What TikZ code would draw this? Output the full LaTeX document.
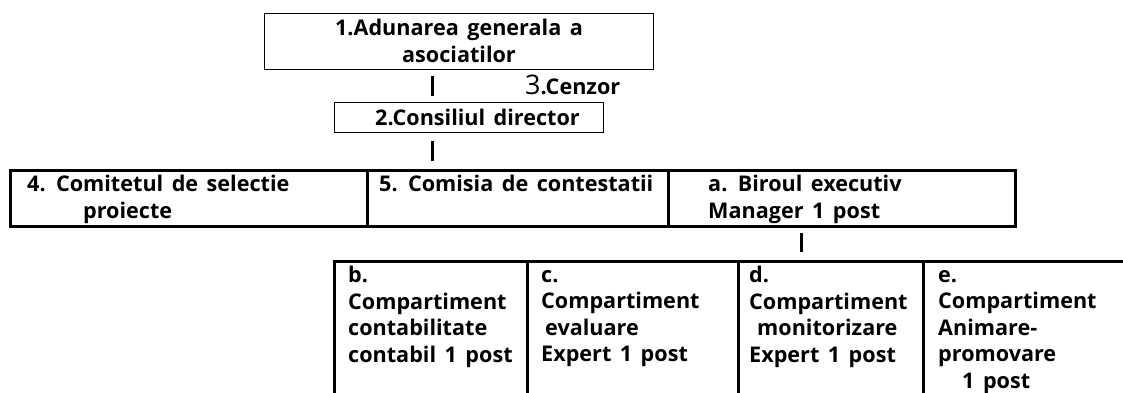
\documentclass[tikz,border=0pt]{standalone}
\usepackage{fontspec}
\setmainfont{Open Sans}
\newcommand{\firstln}{\rule{0pt}{16pt}}
\begin{document}
\begin{tikzpicture}[x=1pt,y=-1pt,
  thinbox/.style={draw=black,line width=1.3pt,rectangle,anchor=north west,inner sep=0pt},
  thickbox/.style={draw=black,line width=2.8pt,rectangle,anchor=north west,inner sep=0pt},
  txt/.style={anchor=north west,inner sep=0pt,font=\fontsize{21.6}{26.5}\selectfont\bfseries,align=left,execute at begin node={\spaceskip=8.5pt\relax}},
  ctxt/.style={txt,align=center,anchor=north},
  tick/.style={draw=black,line width=3pt}]
\useasboundingbox (0,0) rectangle (1123,392);
\fill[white] (0,0) rectangle (1123,392);
\node[thinbox,minimum width=389pt,minimum height=56pt] (b1) at (264,13) {};
\node[thinbox,minimum width=269pt,minimum height=30pt] (b2) at (334,102) {};
\node[thickbox,minimum width=357pt,minimum height=56pt] (b4) at (9,169) {};
\node[thickbox,minimum width=301pt,minimum height=56pt] (b5) at (366,169) {};
\node[thickbox,minimum width=347pt,minimum height=56pt] (ba) at (667,169) {};
\node[thickbox,minimum width=193pt,minimum height=162pt] (bb) at (333,260) {};
\node[thickbox,minimum width=211pt,minimum height=162pt] (bc) at (526,260) {};
\node[thickbox,minimum width=185pt,minimum height=162pt] (bd) at (737,260) {};
\node[thickbox,minimum width=230pt,minimum height=162pt] (be) at (922,260) {};
\node[ctxt] (t1) at (459,19) {\firstln 1.Adunarea generala a\\asociatilor};
\node[txt] (t3) at (525,72) {\rule{0pt}{22pt}{\fontsize{27}{27}\selectfont\mdseries 3}.Cenzor};
\node[txt] (t2) at (375,109) {\firstln 2.Consiliul director};
\node[txt] (t4) at (27,175) {\firstln 4. Comitetul de selectie\\\hspace{56pt}proiecte};
\node[txt] (t5) at (379,175) {\firstln 5. Comisia de contestatii};
\node[txt] (ta) at (708,175) {\firstln a. Biroul executiv\\Manager 1 post};
\node[txt] (tb) at (348,266) {\firstln b.\\Compartiment\\contabilitate\\contabil 1 post};
\node[txt] (tc) at (541,266) {\firstln c.\\Compartiment\\\hspace{4pt}evaluare\\Expert 1 post};
\node[txt] (td) at (749,266) {\firstln d.\\Compartiment\\\hspace{8pt}monitorizare\\Expert 1 post};
\node[txt] (te) at (938,266) {\firstln e.\\Compartiment\\Animare-\\promovare\\\hspace{24pt}1 post};
\coordinate (a1) at (432,76); \coordinate (a2) at (432,96);
\coordinate (c1) at (432,141); \coordinate (c2) at (432,161);
\coordinate (e1) at (801,233); \coordinate (e2) at (801,252);
\draw[tick] (a1) -- (a2);
\draw[tick] (c1) -- (c2);
\draw[tick] (e1) -- (e2);
\end{tikzpicture}
\end{document}
